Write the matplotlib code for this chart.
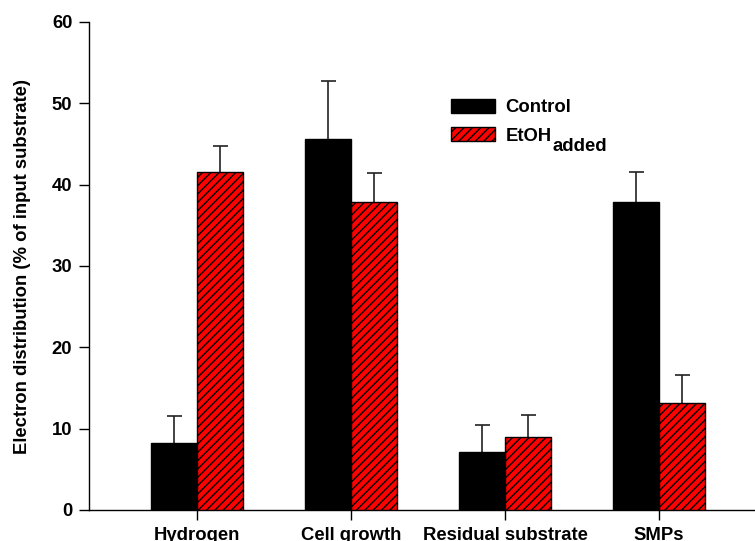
import numpy as np
import matplotlib
matplotlib.use("Agg")
import matplotlib.pyplot as plt

plt.rcParams['font.family'] = ['Liberation Sans', 'DejaVu Sans']
plt.rcParams['font.weight'] = 'bold'
plt.rcParams['hatch.linewidth'] = 1.0

categories = ["Hydrogen", "Cell growth", "Residual substrate", "SMPs"]
control = [8.2, 45.6, 7.1, 37.9]
control_err = [3.3, 7.2, 3.3, 3.7]
ethanol = [41.5, 37.9, 9.0, 13.2]
ethanol_err = [3.3, 3.5, 2.7, 3.4]
y_ticks = [0, 10, 20, 30, 40, 50, 60]

fs = 13.3
fig = plt.figure(figsize=(7.55, 5.41), dpi=100)
ax = fig.add_axes([89 / 755, 1 - 510 / 541, 666 / 755, 488 / 541])

x = np.arange(len(categories))
w = 0.3
ax.bar(x - w / 2, control, w, color="black", edgecolor="black",
       linewidth=1.0, zorder=3, label="Control")
ax.bar(x + w / 2, ethanol, w, color="#ff0000", edgecolor="black",
       linewidth=1.0, hatch="////", zorder=3, label="EtOH")
ax.errorbar(x - w / 2, control, yerr=control_err, fmt="none", ecolor="#222222",
            elinewidth=1.2, capsize=5.4, capthick=1.2, zorder=2)
ax.errorbar(x + w / 2, ethanol, yerr=ethanol_err, fmt="none", ecolor="#222222",
            elinewidth=1.2, capsize=5.4, capthick=1.2, zorder=2)

ax.set_xlim(-0.701, 3.623)
ax.set_ylim(0, 60)
ax.set_yticks(y_ticks)
ax.set_xticks(x)
ax.set_xticklabels(categories, fontsize=fs, fontweight="bold")
ax.tick_params(axis="y", direction="out", length=7, width=1, labelsize=fs, pad=5)
ax.tick_params(axis="x", direction="out", length=7, width=1, labelsize=fs, pad=5)
for lab in ax.get_yticklabels():
    lab.set_fontweight("bold")
ax.spines["top"].set_visible(False)
ax.spines["right"].set_visible(False)
ax.spines["left"].set_linewidth(1)
ax.spines["bottom"].set_linewidth(1)

ax.set_ylabel("Electron distribution (% of input substrate)", fontsize=fs,
              fontweight="bold", labelpad=15)

leg = ax.legend(loc="upper left", bbox_to_anchor=(451 / 755, 1 - 99 / 541),
                bbox_transform=fig.transFigure, frameon=False,
                handlelength=2.4, handleheight=0.76, handletextpad=0.55,
                borderpad=0, borderaxespad=0, labelspacing=0.6,
                prop={"weight": "bold", "size": fs})

# subscript after the second legend entry
fig.canvas.draw()
txt = leg.get_texts()[1]
bb = txt.get_window_extent(fig.canvas.get_renderer())
fig.text((bb.x1 + 1) / fig.bbox.width, (bb.y0 - 6) / fig.bbox.height, "added",
         fontsize=fs, fontweight="bold", ha="left", va="baseline")

fig.savefig("out.png", dpi=100)
